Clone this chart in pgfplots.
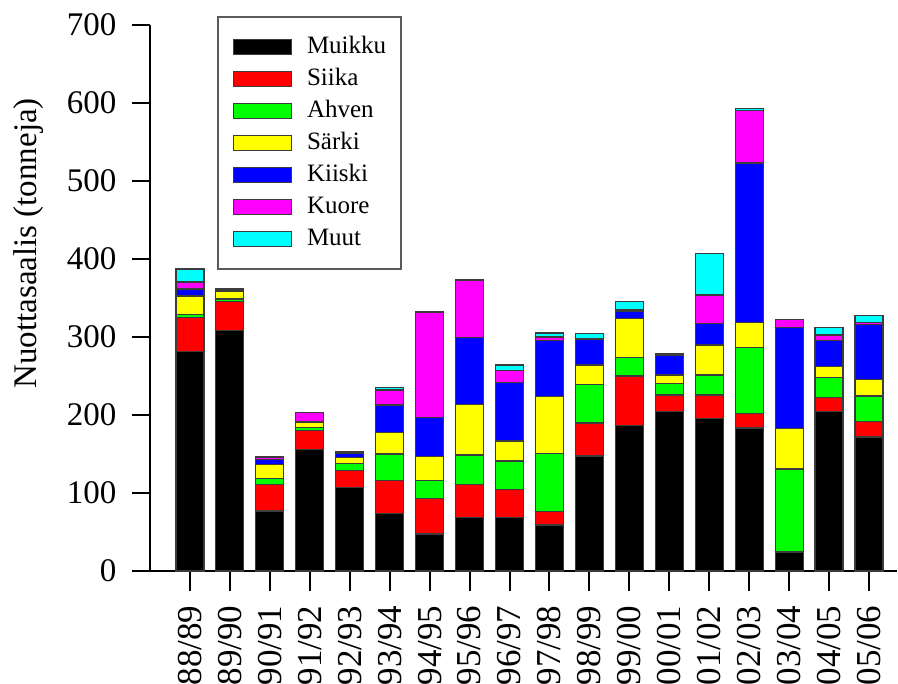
\documentclass[border=0pt]{standalone}
\usepackage{fontspec}
\setmainfont{Liberation Serif}
\usepackage{pgfplots}
\usepackage{pgfplotstable}
\pgfplotsset{compat=1.18}
\definecolor{cRed}{RGB}{255,0,0}
\definecolor{cGreen}{RGB}{0,255,0}
\definecolor{cYellow}{RGB}{255,255,0}
\definecolor{cBlue}{RGB}{0,0,255}
\definecolor{cMag}{RGB}{255,0,255}
\definecolor{cCyan}{RGB}{0,255,255}
\definecolor{cEdge}{RGB}{60,60,60}
\pgfplotstableread{
x mu si ah sa ki ku mt
0 281 44 4 23.6 9 9 16.5
1 308 37 3.7 9.3 1 1 1.5
2 77 33.7 8.3 18 6 2.7 0.5
3 156 24 4 6.6 0.5 12 0.5
4 107 21.6 9 8.4 4.4 1.6 1.4
5 74 42 34 28 34.8 19.2 3
6 47.4 45.6 22.8 30.8 50.4 134.6 1.4
7 69 42 37.7 65 86 73.4 0.5
8 69 35 37 25.7 74.8 15.8 6.7
9 59 17 75 72.5 71.5 5 5
10 147.4 42.3 49.2 25.1 33.4 0.3 7
11 187 63 24 50 8.5 2.1 11.4
12 204 21.6 15 10.7 25.7 0.2 1.8
13 195 30.6 25.7 38.4 27.8 36.3 53.5
14 183.3 18.4 85.1 32.2 204 67 3
15 24 0.8 106 51.7 129.5 10 0.3
16 204 18 26 14.4 32.6 7.6 9.4
17 171.8 20.1 32.5 21.6 70 2.4 8.9
}\data
\pgfplotsset{
  mybar/.style={draw=cEdge, line width=0.6pt, fill=#1,
    legend image code/.code={\draw[draw=cEdge,line width=0.6pt,fill=#1] (0pt,-3.75pt) rectangle (29pt,3.75pt);}},
}
\begin{document}
\begin{tikzpicture}
\useasboundingbox (-75pt,-56.5pt) rectangle (374pt,285.5pt);
\begin{axis}[
  scale only axis,
  width=373.5pt, height=273pt,
  xmin=-1, xmax=17.7,
  ymin=0, ymax=700,
  ybar stacked,
  bar width=14pt,
  axis lines*=left,
  axis line style={-, line width=1pt, black},
  tick align=outside,
  tick style={line width=1pt, black},
  xtick style={/pgfplots/major tick length=10pt},
  ytick style={/pgfplots/major tick length=9pt},
  xtick={0,...,17},
  xticklabels={88/89,89/90,90/91,91/92,92/93,93/94,94/95,95/96,96/97,97/98,98/99,99/00,00/01,01/02,02/03,03/04,04/05,05/06},
  xticklabel shift=9.5pt,
  xticklabel style={rotate=90, anchor=east, font=\fontsize{17.5}{20}\selectfont},
  ytick={0,100,...,700},
  yticklabel shift=9pt,
  yticklabel style={font=\fontsize{16.5}{19}\selectfont},
  /pgf/number format/assume math mode=true,
  ylabel={Nuottasaalis (tonneja)},
  ylabel style={at={(axis description cs:-0.163,0.60)}, anchor=center, font=\fontsize{16.5}{20}\selectfont},
  legend style={at={(0.0897,1.0165)}, anchor=north west,
    draw={rgb,255:red,90;green,90;blue,90}, line width=0.8pt,
    font=\fontsize{12.5}{15}\selectfont,
    inner xsep=7.5pt, inner ysep=7pt, row sep=0pt,
    nodes={inner sep=0pt, minimum height=16pt},
    /tikz/every odd column/.append style={column sep=7.5pt}},
  legend cell align=left,
]
\addplot[mybar=black] table[x=x,y=mu]{\data};
\addplot[mybar=cRed] table[x=x,y=si]{\data};
\addplot[mybar=cGreen] table[x=x,y=ah]{\data};
\addplot[mybar=cYellow] table[x=x,y=sa]{\data};
\addplot[mybar=cBlue] table[x=x,y=ki]{\data};
\addplot[mybar=cMag] table[x=x,y=ku]{\data};
\addplot[mybar=cCyan] table[x=x,y=mt]{\data};
\legend{Muikku,Siika,Ahven,Särki,Kiiski,Kuore,Muut}
\end{axis}
\end{tikzpicture}
\end{document}
